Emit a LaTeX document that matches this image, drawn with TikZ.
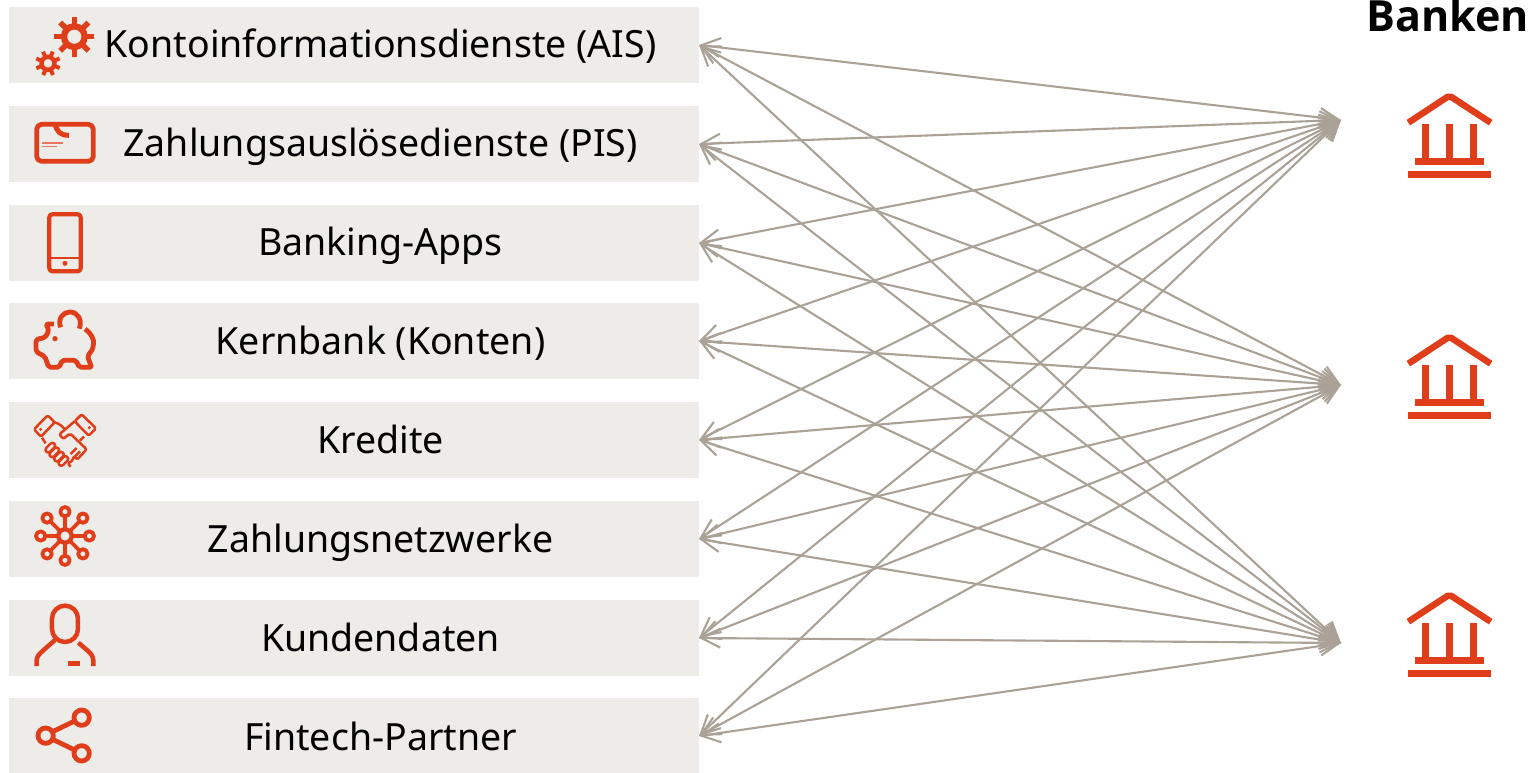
\documentclass[tikz,border=0pt]{standalone}
\usepackage{fontspec}
\setmainfont{Noto Sans}
\newfontfamily\headfont{Open Sans}
\usetikzlibrary{arrows.meta}
\definecolor{boxgray}{HTML}{EDECE8}
\definecolor{linkgray}{HTML}{AAA297}
\definecolor{iconred}{HTML}{E03D1A}
\tikzset{
  rowbox/.style={fill=boxgray,draw=none,minimum width=690pt,minimum height=76pt,inner sep=0pt,outer sep=0pt},
  rowlabel/.style={anchor=base,inner sep=0pt,text=black,font=\fontsize{37.5}{40}\selectfont},
  headlabel/.style={anchor=base,inner sep=0pt,text=black,font=\headfont\fontsize{43}{46}\selectfont\bfseries},
  link/.style={draw=linkgray,line width=2.1pt,{Straight Barb[length=19pt,width=19pt]}-{Straight Barb[length=19pt,width=19pt]}},
  ic/.style={draw=iconred,line width=#1,line cap=butt,line join=round,fill=none},
  ic/.default=4pt,
}
\begin{document}
\begin{tikzpicture}[x=1pt,y=-1pt]
\useasboundingbox (0,0) rectangle (1533,773);
\fill[white] (0,0) rectangle (1533,773);
% rows
\foreach \i/\yy/\ty/\txt in {1/45/58/Kontoinformationsdienste (AIS),2/144/157/Zahlungsauslösedienste (PIS),3/243/255/Banking-Apps,4/341/354/Kernbank (Konten),5/440/453/Kredite,6/539/552/Zahlungsnetzwerke,7/638/651/Kundendaten,8/736/750/Fintech-Partner}{
  \node[rowbox] (box\i) at (354,\yy) {};
  \node[rowlabel] (label\i) at (380.5,\ty) {\txt};
}
\node[headlabel] (head) at (1447.5,32) {Banken};
% connector ends
\coordinate (bank1) at (1341,120);
\coordinate (bank2) at (1341,385);
\coordinate (bank3) at (1341,643);
\foreach \i in {1,...,8}{
  \foreach \b in {1,2,3}{
    \draw[link] (box\i.east) -- (bank\b);
  }
}
% gears
\begin{scope}[scale=1/3]
  \draw[ic=6.3pt] (223,110) circle (31);
  \foreach \a in {0,45,...,315}{\draw[iconred,line width=5.5pt] (223,110)++(\a:36) -- ++(\a:24);}
  \draw[ic=4.5pt] (144,190) circle (19.5);
  \foreach \a in {22,67,...,337}{\draw[iconred,line width=4pt] (144,190)++(\a:22) -- ++(\a:16);}
  % card
  \draw[ic=4.8pt,rounded corners=5pt] (110,373) rectangle (280,484);
  \draw[ic=5pt] (165,373) .. controls (172,395) and (180,406) .. (207,406);
  \draw[iconred!70,line width=1.5pt] (126,429) -- (188,429);
  \draw[iconred!70,line width=1.5pt] (126,440) -- (172,440);
  % phone
  \draw[ic=4.2pt,rounded corners=3pt] (148,643) rectangle (242,814);
  \draw[ic=1.8pt] (148,775) -- (242,775);
  \fill[iconred] (195,790) circle (7.5);
\end{scope}
% piggy, handshake, network
\begin{scope}[shift={(0,290)},scale=1/3]
  \draw[ic=4.8pt] (182,112) .. controls (172,85) and (190,66) .. (210,66) .. controls (232,66) and (248,88) .. (238,116);
  \draw[ic=4.8pt,rounded corners=2pt] (255,117) .. controls (275,130) and (282,150) .. (280,165) .. controls (278,178) and (272,188) .. (262,198) -- (275,232) -- (238,232) -- (228,211) -- (186,211) -- (178,232) -- (146,232) -- (135,200) -- (108,185) -- (108,148) -- (135,143) -- (147,122) -- (138,102) -- (162,102);
  \fill[iconred] (165,146) circle (8);
  % handshake
  \draw[ic=2.5pt,rounded corners=1.5pt] (102,418) -- (143,376) -- (164,397) -- (123,440) -- cycle;
  \draw[ic=2.5pt,rounded corners=1.5pt] (288,415) -- (245,373) -- (224,394) -- (266,437) -- cycle;
  \fill[iconred] (122,418) circle (5);
  \fill[iconred] (268,413) circle (5);
  \draw[ic=2.5pt,rounded corners=2pt] (164,397) -- (180,403) -- (197,420);
  \draw[ic=2.5pt] (126,443) -- (137,460);
  \draw[ic=2.5pt,rounded corners=2pt] (224,394) -- (178,433) -- (190,447) -- (210,430) -- (260,478) -- (232,508);
  \draw[ic=2.5pt,rounded corners=1.5pt] (232,508) -- (222,498) -- (216,514) -- (203,520) -- (212,530);
  \draw[ic=2.5pt] (252,440) -- (240,452);
  \foreach \cx/\cy in {151/473,163/487,177/500,190/513}{
    \draw[ic=2.5pt,rounded corners=2.6pt,rotate around={45:(\cx,\cy)}] (\cx-17,\cy-8) rectangle (\cx+17,\cy+8);
  }
  \draw[ic=2.5pt] (212,492) -- (230,474);
  \draw[ic=2.5pt] (222,502) -- (240,484);
  % network
  \draw[ic=4.3pt] (195,738) circle (20);
  \foreach \a/\r in {0/73,45/76,90/73,135/76,180/73,225/76,270/73,315/76}{
    \draw[ic=3.8pt] (195,738)++(\a:20) -- ++(\a:\r-33);
    \draw[ic=3.8pt] (195,738)++(\a:\r) circle (14);
  }
\end{scope}
% person and share
\begin{scope}[shift={(0,580)},scale=1/3]
  \draw[ic=4.5pt,rounded corners=13pt] (156,77) rectangle (234,186);
  \draw[ic=4.5pt,rounded corners=3pt] (165,180) -- (122,218) -- (110,232) -- (110,258);
  \draw[ic=4.5pt,rounded corners=3pt] (235,188) -- (270,218) -- (280,232) -- (280,258);
  \fill[iconred] (203,243) rectangle (240,257);
  \draw[ic=4.8pt] (245,413) circle (23);
  \draw[ic=4.8pt] (137,467) circle (23);
  \draw[ic=4.8pt] (245,520) circle (23);
  \draw[ic=4.8pt] (160,454) -- (222,424);
  \draw[ic=4.8pt] (160,479) -- (222,509);
\end{scope}
% banks
\foreach \s in {0,241,499}{
\begin{scope}[shift={(1290,\s)},scale=1/3]
  \draw[ic=6.5pt,rounded corners=2pt] (355,368) -- (478,287) -- (602,368);
  \foreach \xx in {407,478,550}{\draw[ic=6.5pt] (\xx,373) -- (\xx,480);}
  \fill[iconred] (375,475) rectangle (581,496);
  \fill[iconred] (355,512) rectangle (602,533);
\end{scope}
}
\end{tikzpicture}
\end{document}
